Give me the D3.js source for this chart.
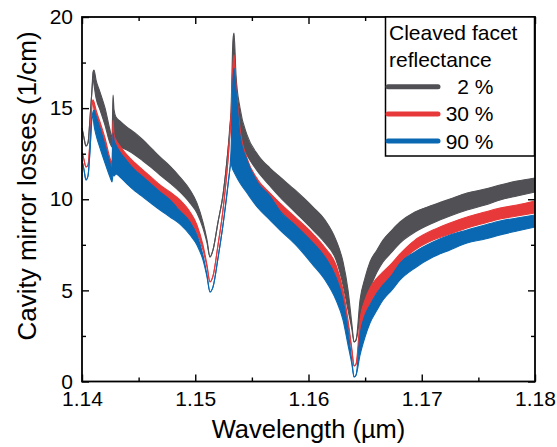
<!DOCTYPE html>
<html>
<head>
<meta charset="utf-8">
<script src="https://cdn.jsdelivr.net/npm/d3@7"></script>
<style>
  html, body { margin: 0; padding: 0; background: #fff; }
  svg { display: block; font-family: "Liberation Sans", Arial, sans-serif; }
</style>
</head>
<body>
<svg id="chart" width="557" height="447"></svg>
<script>
// Wavelength grid (µm) shared by all three reflectance curves
const wavelength = [
  1.14000, 1.14018, 1.14035, 1.14053, 1.14071, 1.14088, 1.14097, 1.14106, 1.14124, 1.14159,
  1.14203, 1.14247, 1.14265, 1.14274, 1.14283, 1.14300, 1.14336, 1.14397, 1.14468, 1.14539,
  1.14618, 1.14689, 1.14777, 1.14865, 1.14954, 1.15015, 1.15068, 1.15104, 1.15130, 1.15157,
  1.15201, 1.15245, 1.15289, 1.15316, 1.15333, 1.15342, 1.15360, 1.15395, 1.15457, 1.15554,
  1.15660, 1.15748, 1.15881, 1.16040, 1.16146, 1.16243, 1.16305, 1.16349, 1.16384, 1.16402,
  1.16420, 1.16455, 1.16499, 1.16543, 1.16605, 1.16658, 1.16737, 1.16808, 1.16940, 1.17099,
  1.17249, 1.17400, 1.17559, 1.17691, 1.17841, 1.18000
];

// Upper / lower envelopes of the fast Fabry-Perot ripple, mirror losses in 1/cm
const grayHi = [
  13.91, 13.36, 12.92, 13.09, 14.46, 15.99, 16.98, 17.09, 16.54, 15.88,
  15.01, 13.80, 13.36, 15.72, 14.90, 14.51, 14.29, 13.96, 13.64, 13.25,
  12.76, 12.32, 11.82, 11.22, 10.51, 9.79, 8.75, 7.76, 6.83, 7.22,
  8.75, 10.23, 12.70, 14.90, 18.74, 19.12, 16.82, 15.01, 13.53, 12.43,
  11.71, 11.22, 10.51, 9.57, 8.86, 7.76, 6.56, 5.02, 3.10, 2.17,
  2.28, 4.47, 5.68, 6.56, 7.22, 7.76, 8.31, 8.75, 9.30, 9.68,
  10.01, 10.34, 10.56, 10.78, 11.00, 11.17
];
const grayLo = [
  13.91, 13.36, 12.92, 13.09, 14.46, 15.99, 16.65, 16.27, 15.56, 14.90,
  14.07, 13.09, 12.87, 13.25, 13.09, 12.98, 12.87, 12.70, 12.43, 12.10,
  11.71, 11.33, 10.89, 10.40, 9.79, 9.25, 8.42, 7.60, 6.83, 7.22,
  8.75, 10.23, 12.70, 14.62, 14.90, 14.79, 14.35, 13.25, 12.43, 11.50,
  10.73, 10.12, 9.30, 8.31, 7.60, 6.67, 5.29, 3.92, 2.83, 2.17,
  2.28, 3.48, 4.47, 5.13, 6.01, 6.56, 7.11, 7.60, 8.20, 8.70,
  9.08, 9.41, 9.68, 9.96, 10.18, 10.40
];
const redHi = [
  12.59, 12.15, 11.77, 11.88, 13.25, 15.17, 15.45, 15.34, 14.90, 14.24,
  13.36, 12.26, 11.99, 14.35, 13.53, 13.25, 12.92, 12.43, 11.99, 11.60,
  11.17, 10.78, 10.40, 9.96, 9.30, 8.59, 7.49, 6.39, 5.46, 5.79,
  7.49, 9.41, 12.15, 14.62, 17.37, 17.92, 16.27, 13.91, 12.26, 11.06,
  10.34, 9.79, 9.03, 8.09, 7.33, 6.39, 5.02, 3.37, 1.73, 0.85,
  0.96, 3.37, 4.47, 5.13, 5.68, 6.01, 6.50, 7.00, 7.76, 8.31,
  8.70, 9.03, 9.30, 9.52, 9.68, 9.90
];
const redLo = [
  12.59, 12.15, 11.77, 11.88, 13.25, 15.17, 15.28, 14.90, 14.35, 13.64,
  12.70, 11.71, 11.50, 12.15, 12.04, 12.26, 12.15, 11.82, 11.39, 11.00,
  10.56, 10.23, 9.79, 9.41, 8.75, 8.15, 7.22, 6.28, 5.46, 5.79,
  7.49, 9.41, 12.15, 14.07, 13.80, 13.53, 13.25, 12.70, 11.71, 10.51,
  9.85, 9.36, 8.53, 7.54, 6.78, 5.79, 4.47, 3.10, 1.62, 0.85,
  0.96, 2.55, 3.48, 4.25, 4.91, 5.29, 5.84, 6.50, 7.22, 7.76,
  8.09, 8.42, 8.70, 8.92, 9.08, 9.25
];
const blueHi = [
  12.15, 11.60, 11.06, 11.28, 12.70, 14.46, 14.79, 14.90, 14.57, 13.91,
  12.98, 11.99, 11.60, 13.64, 13.25, 12.98, 12.59, 12.10, 11.60, 11.22,
  10.78, 10.40, 9.96, 9.36, 8.75, 8.04, 6.94, 5.84, 4.91, 5.19,
  6.78, 8.59, 10.78, 12.70, 16.54, 17.20, 15.99, 13.53, 12.15, 10.89,
  10.18, 9.36, 8.59, 7.60, 6.83, 5.73, 4.47, 2.83, 1.07, 0.25,
  0.36, 2.55, 3.65, 4.20, 4.86, 5.29, 5.84, 6.50, 7.11, 7.65,
  8.04, 8.31, 8.59, 8.81, 8.97, 9.14
];
const blueLo = [
  12.15, 11.60, 11.06, 11.28, 12.70, 14.46, 14.51, 14.07, 13.53, 12.81,
  11.99, 11.22, 10.95, 11.33, 11.28, 11.39, 11.22, 10.84, 10.45, 10.12,
  9.74, 9.41, 9.03, 8.64, 8.04, 7.49, 6.67, 5.73, 4.91, 5.19,
  6.78, 8.59, 10.78, 11.88, 11.60, 11.50, 11.28, 10.89, 10.34, 9.52,
  8.86, 8.31, 7.54, 6.39, 5.57, 4.47, 3.37, 2.00, 0.91, 0.25,
  0.36, 1.45, 2.44, 3.21, 3.92, 4.47, 5.02, 5.57, 6.23, 6.83,
  7.22, 7.60, 7.82, 8.04, 8.26, 8.48
];

const seriesNames = ["2 %", "30 %", "90 %"];
const seriesColors = ["#505055", "#e8393a", "#0a68b2"];
const seriesHi = [grayHi, redHi, blueHi];
const seriesLo = [grayLo, redLo, blueLo];

const xMajorTicks = [1.14, 1.15, 1.16, 1.17, 1.18];
const xMinorTicks = [1.145, 1.155, 1.165, 1.175];
const yMajorTicks = [0, 5, 10, 15, 20];
const yMinorTicks = [2.5, 7.5, 12.5, 17.5];

const legendTitle = ["Cleaved facet", "reflectance"];

// Layout
const plot = { left: 82, right: 535, top: 17, bottom: 381.5 };
const svg = d3.select("#chart");

const x = d3.scaleLinear().domain([1.14, 1.18]).range([plot.left, plot.right]);
const y = d3.scaleLinear().domain([0, 20]).range([plot.bottom, plot.top]);

// Bands: area between ripple envelopes, outlined so the narrow parts stay visible
const bandLayer = svg.append("g");
seriesNames.forEach((name, i) => {
  const rows = wavelength.map((w, k) => ({ w, hi: seriesHi[i][k], lo: seriesLo[i][k] }));
  const area = d3.area()
    .x(d => x(d.w)).y0(d => y(d.lo)).y1(d => y(d.hi))
    .curve(d3.curveMonotoneX);
  const lineHi = d3.line().x(d => x(d.w)).y(d => y(d.hi)).curve(d3.curveMonotoneX);
  const lineLo = d3.line().x(d => x(d.w)).y(d => y(d.lo)).curve(d3.curveMonotoneX);
  const g = bandLayer.append("g");
  g.append("path").attr("d", area(rows)).attr("fill", seriesColors[i]);
  g.append("path").attr("d", lineHi(rows)).attr("fill", "none")
    .attr("stroke", seriesColors[i]).attr("stroke-width", 1.1);
  g.append("path").attr("d", lineLo(rows)).attr("fill", "none")
    .attr("stroke", seriesColors[i]).attr("stroke-width", 1.1);
});

// Axes with inward ticks on all four sides
const tickFont = "21px";
function styleAxis(g) {
  g.select(".domain").remove();
  g.selectAll(".tick line").attr("stroke", "#000").attr("stroke-width", 1.4);
  g.selectAll(".tick text").attr("fill", "#000").style("font-size", tickFont)
    .style("font-family", "'Liberation Sans', Arial, sans-serif");
}

const fmtX = d3.format(".2f");
svg.append("g").attr("transform", `translate(0,${plot.bottom})`)
  .call(d3.axisBottom(x).tickValues(xMajorTicks).tickFormat(fmtX).tickSize(-7).tickPadding(10))
  .call(styleAxis);
svg.append("g").attr("transform", `translate(0,${plot.bottom})`)
  .call(d3.axisBottom(x).tickValues(xMinorTicks).tickFormat("").tickSize(-4))
  .call(styleAxis);
svg.append("g").attr("transform", `translate(0,${plot.top})`)
  .call(d3.axisTop(x).tickValues(xMajorTicks).tickFormat("").tickSize(-7))
  .call(styleAxis);
svg.append("g").attr("transform", `translate(0,${plot.top})`)
  .call(d3.axisTop(x).tickValues(xMinorTicks).tickFormat("").tickSize(-4))
  .call(styleAxis);

svg.append("g").attr("transform", `translate(${plot.left},0)`)
  .call(d3.axisLeft(y).tickValues(yMajorTicks).tickFormat(d3.format("d")).tickSize(-7).tickPadding(9))
  .call(styleAxis);
svg.append("g").attr("transform", `translate(${plot.left},0)`)
  .call(d3.axisLeft(y).tickValues(yMinorTicks).tickFormat("").tickSize(-4))
  .call(styleAxis);
svg.append("g").attr("transform", `translate(${plot.right},0)`)
  .call(d3.axisRight(y).tickValues(yMajorTicks).tickFormat("").tickSize(-7))
  .call(styleAxis);
svg.append("g").attr("transform", `translate(${plot.right},0)`)
  .call(d3.axisRight(y).tickValues(yMinorTicks).tickFormat("").tickSize(-4))
  .call(styleAxis);

// Frame
svg.append("rect")
  .attr("x", plot.left).attr("y", plot.top)
  .attr("width", plot.right - plot.left).attr("height", plot.bottom - plot.top)
  .attr("fill", "none").attr("stroke", "#000").attr("stroke-width", 1.8);

// Axis titles
svg.append("text")
  .attr("x", (plot.left + plot.right) / 2).attr("y", 438)
  .attr("text-anchor", "middle").style("font-size", "25.5px").attr("fill", "#000")
  .text("Wavelength (µm)");
svg.append("text")
  .attr("transform", `translate(36,186) rotate(-90)`)
  .attr("text-anchor", "middle").style("font-size", "26px").attr("fill", "#000")
  .text("Cavity mirror losses (1/cm)");

// Legend
const lg = svg.append("g");
lg.append("rect")
  .attr("x", 385.5).attr("y", plot.top).attr("width", 149).attr("height", 139)
  .attr("fill", "#fff").attr("stroke", "#000").attr("stroke-width", 1.5);
legendTitle.forEach((t, i) => {
  lg.append("text").attr("x", 389).attr("y", 40 + i * 26.5)
    .style("font-size", "21px").attr("fill", "#000").text(t);
});
seriesNames.forEach((name, i) => {
  const ly = 86.7 + i * 27.2;
  lg.append("line").attr("x1", 388).attr("x2", 438).attr("y1", ly).attr("y2", ly)
    .attr("stroke", seriesColors[i]).attr("stroke-width", 5).attr("stroke-linecap", "round");
  lg.append("text").attr("x", 493.5).attr("y", ly + 7.5)
    .attr("text-anchor", "end").style("font-size", "21px").attr("fill", "#000").text(name);
});
</script>
</body>
</html>
